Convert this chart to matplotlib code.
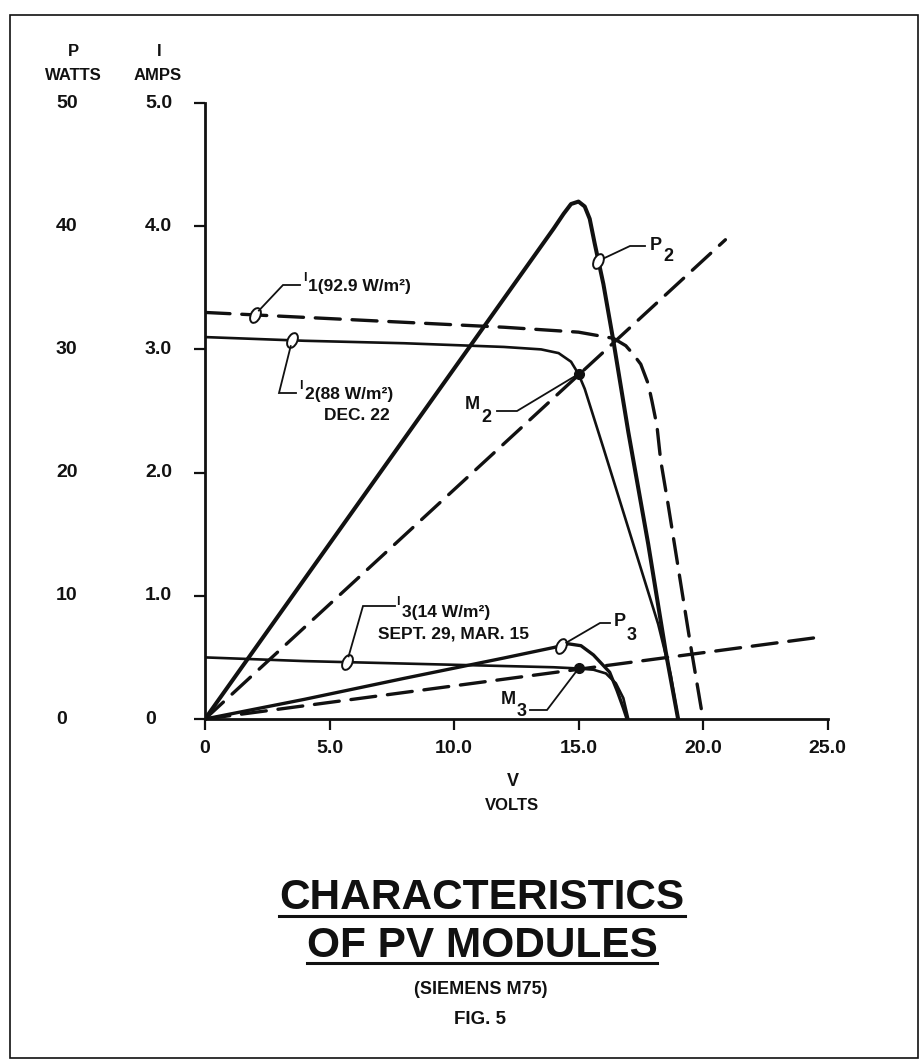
import numpy as np
import matplotlib
matplotlib.use("Agg")
import matplotlib.pyplot as plt
from matplotlib.path import Path
from matplotlib.markers import MarkerStyle
from matplotlib.transforms import Affine2D, blended_transform_factory
from matplotlib.lines import Line2D
from matplotlib.patches import Rectangle

plt.rcParams['font.family'] = ['Liberation Sans', 'DejaVu Sans']
plt.rcParams['lines.scale_dashes'] = False

# ---------------------------------------------------------------- data
# I-V curve at 92.9 W/m^2 (dashed)
v_i1 = [0.0, 4.0, 8.0, 12.0, 15.0, 16.4, 16.9, 17.2, 17.5, 17.8, 17.95,
        18.15, 18.3, 18.6, 18.9, 19.2, 19.5, 20.0]
i_i1 = [3.30, 3.26, 3.22, 3.18, 3.14, 3.09, 3.03, 2.96, 2.88, 2.72, 2.58,
        2.38, 2.10, 1.74, 1.36, 0.98, 0.60, 0.0]

# I-V curve at 88 W/m^2, Dec. 22
v_i2 = [0.0, 4.0, 8.0, 12.0, 13.5, 14.2, 14.7, 15.0, 15.25, 15.5, 16.0,
        17.0, 18.2, 18.7, 19.0]
i_i2 = [3.10, 3.07, 3.05, 3.02, 3.00, 2.97, 2.90, 2.80, 2.68, 2.52, 2.20,
        1.55, 0.77, 0.36, 0.0]

# power curve for I2, watts
v_p2 = [0.0, 14.0, 14.4, 14.7, 15.0, 15.25, 15.45, 15.65, 16.0, 16.4,
        17.0, 17.8, 18.5, 19.0]
w_p2 = [0.0, 39.8, 41.0, 41.8, 42.0, 41.6, 40.6, 38.6, 35.3, 30.7,
        23.3, 14.2, 5.5, 0.0]

# I-V curve at 14 W/m^2, Sept. 29 / Mar. 15
v_i3 = [0.0, 4.0, 8.0, 12.0, 14.0, 15.0, 15.6, 16.1, 16.5, 16.8, 17.0]
i_i3 = [0.50, 0.47, 0.45, 0.43, 0.42, 0.41, 0.40, 0.37, 0.29, 0.17, 0.0]

# power curve for I3, watts
v_p3 = [0.0, 4.0, 8.0, 12.0, 14.0, 14.6, 15.1, 15.6, 16.25, 16.55, 16.8, 16.95]
w_p3 = [0.0, 1.6, 3.3, 4.95, 5.8, 6.1, 5.95, 5.2, 3.8, 2.3, 0.9, 0.0]

# resistive load lines through the maximum power points
v_load2 = [0.0, 20.9]
i_load2 = [0.0, 3.89]
v_load3 = [0.0, 24.9]
i_load3 = [0.0, 0.67]

# maximum power points M2, M3
m_v = [15.0, 15.0]
m_i = [2.80, 0.41]

v_ticks = [0, 5, 10, 15, 20, 25]
v_ticklabels = ['0', '5.0', '10.0', '15.0', '20.0', '25.0']
i_ticks = [0, 1, 2, 3, 4, 5]
i_ticklabels = ['0', '1.0', '2.0', '3.0', '4.0', '5.0']
p_ticks = [0, 10, 20, 30, 40, 50]
p_ticklabels = ['0', '10', '20', '30', '40', '50']

# ---------------------------------------------------------------- figure
W, H = 922, 1063
K = '#111111'
fig = plt.figure(figsize=(W / 100, H / 100), dpi=100)
fig.patch.set_facecolor('white')

ax = fig.add_axes([205 / W, 1 - 719 / H, 622.5 / W, 616 / H])
ax.set_xlim(0, 25)
ax.set_ylim(0, 5)
for s in ('top', 'right'):
    ax.spines[s].set_visible(False)
for s in ('left', 'bottom'):
    ax.spines[s].set_linewidth(2.0)
    ax.spines[s].set_color(K)
ax.set_xticks(v_ticks, v_ticklabels)
ax.set_yticks(i_ticks, [''] * len(i_ticks))
ax.tick_params(direction='out', length=8, width=1.6, pad=7, labelsize=14,
               color=K, labelcolor=K)
for t in ax.get_xticklabels():
    t.set_fontweight('bold')

ax_p = ax.twinx()
ax_p.set_ylim(0, 50)
ax_p.axis('off')

dash = (0, (18, 8.5))
ax.plot(v_i1, i_i1, color=K, lw=2.4, ls=dash, dash_capstyle='round')
ax.plot(v_load2, i_load2, color=K, lw=2.4, ls=dash, dash_capstyle='round')
ax.plot(v_load3, i_load3, color=K, lw=2.4, ls=dash, dash_capstyle='round')
ax.plot(v_i2, i_i2, color=K, lw=1.9, solid_joinstyle='round')
ax.plot(v_i3, i_i3, color=K, lw=1.9, solid_joinstyle='round')
ax_p.plot(v_p2, w_p2, color=K, lw=2.9, solid_joinstyle='round')
ax_p.plot(v_p3, w_p3, color=K, lw=2.4, solid_joinstyle='round')
ax.plot(m_v, m_i, 'o', ms=7, color=K, zorder=5)

# ---------------------------------------------------------------- left scales
yt_i = blended_transform_factory(fig.transFigure, ax.transData)
yt_p = blended_transform_factory(fig.transFigure, ax_p.transData)
for val, lab in zip(i_ticks, i_ticklabels):
    fig.text(145 / W, val, lab, transform=yt_i, ha='left', va='center',
             fontsize=14, fontweight='bold', color=K)
for val, lab in zip(p_ticks, p_ticklabels):
    fig.text(56 / W, val, lab, transform=yt_p, ha='left', va='center',
             fontsize=14, fontweight='bold', color=K)


def put(px, py, s, size=12.5, ha='center', va='center', **kw):
    return fig.text(px / W, 1 - py / H, s, fontsize=size, ha=ha, va=va,
                    fontweight=kw.pop('weight', 'bold'), color=K, **kw)


put(73, 52, 'P', 12)
put(73, 76, 'WATTS', 12)
put(159, 52, 'I', 12)
put(158, 76, 'AMPS', 12)
put(513, 782, 'V', 13)
put(512, 806, 'VOLTS', 12)

# ---------------------------------------------------------------- callouts
oval = Path.unit_circle().transformed(Affine2D().scale(0.6, 1.0).rotate_deg(-25))
oval_marker = MarkerStyle(oval)


def to_px(axes, x, y):
    dx, dy = axes.transData.transform((x, y))
    return dx, H - dy


def leader(points, lw=1.3):
    fig.add_artist(Line2D([p[0] / W for p in points],
                          [1 - p[1] / H for p in points],
                          color=K, lw=lw, solid_joinstyle='miter'))


def mark(axes, xs, ys, x, bend, end, gap=6):
    y = float(np.interp(x, xs, ys))
    axes.plot([x], [y], ls='none', marker=oval_marker, ms=11, mfc='white',
              mec=K, mew=1.4, zorder=6)
    c = to_px(axes, x, y)
    d = np.hypot(bend[0] - c[0], bend[1] - c[1])
    start = (c[0] + (bend[0] - c[0]) / d * gap, c[1] + (bend[1] - c[1]) / d * gap)
    leader([start, bend, end])


# I1
mark(ax, v_i1, i_i1, 2.0, (283, 285), (300, 285))
put(305, 278, 'I', 9)
put(308, 287, '1(92.9 W/m²)', 12.5, ha='left')
# I2
mark(ax, v_i2, i_i2, 3.5, (279, 393), (296, 393))
put(301, 386, 'I', 9)
put(305, 395, '2(88 W/m²)', 12.5, ha='left')
put(357, 415, 'DEC. 22', 12.5)
# M2
leader([to_px(ax, m_v[0], m_i[0]), (517, 411), (497, 411)])
put(472, 405, 'M', 13)
put(486, 418, '2', 13)
# P2
mark(ax_p, v_p2, w_p2, 15.8, (630, 246), (645, 246))
put(656, 245, 'P', 13)
put(668, 257, '2', 13)
# I3
mark(ax, v_i3, i_i3, 5.7, (363, 606), (395, 606))
put(398, 602, 'I', 9)
put(402, 612, '3(14 W/m²)', 12.5, ha='left')
put(453, 634, 'SEPT. 29, MAR. 15', 12.5)
# P3
mark(ax_p, v_p3, w_p3, 14.3, (600, 623), (610, 623))
put(620, 622, 'P', 13)
put(632, 636, '3', 13)
# M3
leader([to_px(ax, m_v[1], m_i[1]), (547, 710), (530, 710)])
put(508, 700, 'M', 13)
put(522, 712, '3', 13)

# ---------------------------------------------------------------- title block
t1 = put(482, 909, 'CHARACTERISTICS', 30.5, va='baseline')
t2 = put(482, 957, 'OF PV MODULES', 30.5, va='baseline')
put(481, 990, '(SIEMENS M75)', 13)
put(480, 1020, 'FIG. 5', 13.5)

fig.canvas.draw()
for t, uy in ((t1, 916), (t2, 963)):
    bb = t.get_window_extent()
    leader([(bb.x0, uy), (bb.x1, uy)], lw=2.2)

fig.add_artist(Rectangle((10 / W, 1 - 1058 / H), 908 / W, 1043 / H,
                         transform=fig.transFigure, fill=False, lw=1.2,
                         edgecolor=K))

fig.savefig('out.png', dpi=100, facecolor='white')
